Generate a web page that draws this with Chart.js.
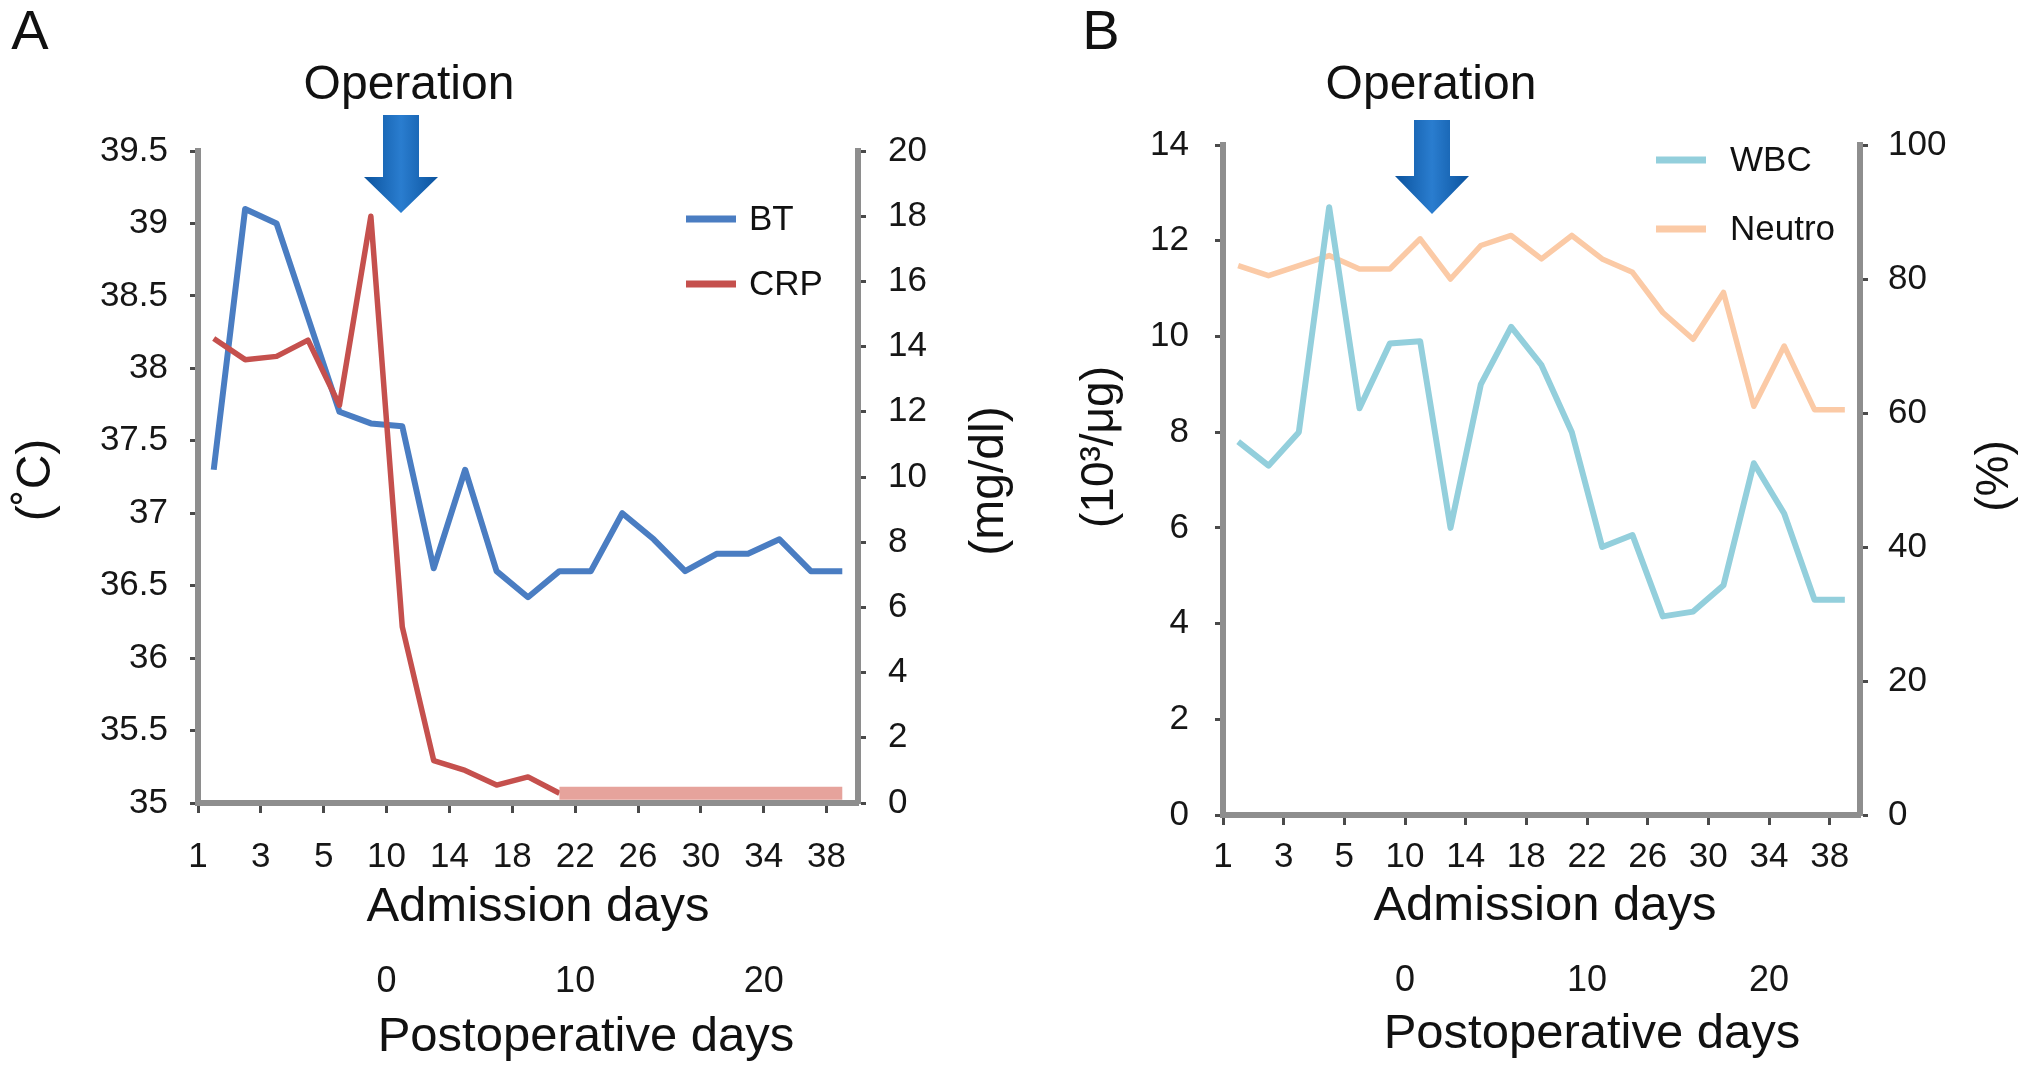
<!DOCTYPE html>
<html>
<head>
<meta charset="utf-8">
<title>BT, CRP, WBC and Neutro by admission day</title>
<script src="https://cdn.jsdelivr.net/npm/chart.js@4.4.1/dist/chart.umd.min.js"></script>
<style>
  body { margin: 0; background: #fff; }
  #wrap { position: relative; width: 2031px; height: 1074px; }
  canvas { position: absolute; top: 0; }
  #chartA { left: 0; }
  #chartB { left: 1015px; }
</style>
</head>
<body>
<div id="wrap">
  <canvas id="chartA" width="1015" height="1074"></canvas>
  <canvas id="chartB" width="1016" height="1074"></canvas>
</div>
<script>
// admission-day tick labels (one label every two measurements)
const dayLabels = ['1', '3', '5', '10', '14', '18', '22', '26', '30', '34', '38'];
// postoperative-day labels and where they sit on the measurement axis
const postopLabels = ['0', '10', '20'];
const postopAt = [5.5, 11.5, 17.5];

// panel A: body temperature (C) and CRP (mg/dl)
const btValues = [37.3, 39.1, 39.0, 38.35, 37.7, 37.62, 37.6, 36.62, 37.3, 36.6, 36.42,
                  36.6, 36.6, 37.0, 36.82, 36.6, 36.72, 36.72, 36.82, 36.6, 36.6];
const crpValues = [14.25, 13.6, 13.7, 14.2, 12.2, 18.0, 5.4, 1.3, 1.0, 0.55, 0.8,
                   0.3, 0.3, 0.3, 0.3, 0.3, 0.3, 0.3, 0.3, 0.3, 0.3];

// panel B: WBC (10^3/ug) and neutrophils (%)
const wbcValues = [7.8, 7.3, 8.0, 12.7, 8.5, 9.85, 9.9, 6.0, 9.0, 10.2, 9.4,
                   8.0, 5.6, 5.85, 4.15, 4.25, 4.8, 7.35, 6.3, 4.5, 4.5];
const neutroValues = [82, 80.5, 82, 83.5, 81.5, 81.5, 86, 80, 85, 86.5, 83,
                      86.5, 83, 81, 75, 71, 78, 61, 70, 60.5, 60.5];

const FONT = '"Liberation Sans", Arial, Helvetica, sans-serif';
Chart.defaults.font.family = FONT;
Chart.defaults.color = '#161616';

const axisGray = '#8e8e8e';
const tickDark = '#4a4a4a';
const xMin = -0.5;
const xMax = btValues.length - 0.5;

function toPoints(values) {
    return values.map((v, i) => ({ x: i, y: v }));
}

function yScale(pos, min, max, step, width, pad) {
    return {
        type: 'linear', position: pos, min: min, max: max,
        ticks: { stepSize: step, padding: pad, font: { size: 35 }, callback: v => String(v) },
        grid: { drawOnChartArea: false, tickLength: 8, tickWidth: 3, tickColor: tickDark },
        border: { color: axisGray, width: 6 },
        afterFit: s => { s.width = width; }
    };
}

function dayScale(height, pad) {
    return {
        type: 'linear', position: 'bottom', weight: 1, min: xMin, max: xMax,
        afterBuildTicks: s => { s.ticks = dayLabels.map((_, i) => ({ value: i * 2 - 0.5 })); },
        ticks: { autoSkip: false, maxRotation: 0, padding: pad, font: { size: 35 },
                 callback: (v, i) => dayLabels[i] },
        grid: { drawOnChartArea: false, tickLength: 10, tickWidth: 3, tickColor: tickDark },
        border: { color: axisGray, width: 6 },
        afterFit: s => { s.height = height; }
    };
}

function postopScale(height, pad) {
    return {
        type: 'linear', position: 'bottom', weight: 2, min: xMin, max: xMax,
        afterBuildTicks: s => { s.ticks = postopAt.map(v => ({ value: v })); },
        ticks: { autoSkip: false, maxRotation: 0, padding: pad, font: { size: 36 },
                 callback: (v, i) => postopLabels[i] },
        grid: { display: false, drawTicks: false },
        border: { display: false },
        afterFit: s => { s.height = height; }
    };
}

function vText(ctx, text, x, y) {
    ctx.save();
    ctx.translate(x, y);
    ctx.rotate(-Math.PI / 2);
    ctx.fillText(text, 0, 0);
    ctx.restore();
}

function drawArrow(ctx, cx, top, headTop, tip) {
    const shaft = 18, head = 37;
    const g = ctx.createLinearGradient(cx - head, 0, cx + head, 0);
    g.addColorStop(0, '#0b539e');
    g.addColorStop(0.5, '#2a7dcf');
    g.addColorStop(1, '#0b539e');
    ctx.beginPath();
    ctx.moveTo(cx - shaft, top);
    ctx.lineTo(cx + shaft, top);
    ctx.lineTo(cx + shaft, headTop);
    ctx.lineTo(cx + head, headTop);
    ctx.lineTo(cx, tip);
    ctx.lineTo(cx - head, headTop);
    ctx.lineTo(cx - shaft, headTop);
    ctx.closePath();
    ctx.fillStyle = g;
    ctx.fill();
}

// panel letter, operation arrow, axis titles and in-plot legend
const decor = {
    id: 'decor',
    afterDraw(chart, args, o) {
        const ctx = chart.ctx;
        ctx.save();
        ctx.fillStyle = '#111';
        ctx.textAlign = 'center';
        ctx.textBaseline = 'middle';

        ctx.font = '56px ' + FONT;
        ctx.fillText(o.letter, o.letterX, o.letterY);

        ctx.font = '48px ' + FONT;
        ctx.fillText('Operation', o.opX, o.opY);
        drawArrow(ctx, o.arrowX, o.arrowTop, o.arrowHead, o.arrowTip);

        ctx.fillStyle = '#111';
        ctx.font = '49px ' + FONT;
        ctx.fillText('Admission days', o.xTitleX, o.xTitleY);
        ctx.fillText('Postoperative days', o.postTitleX, o.postTitleY);
        ctx.font = o.yTitleSize + 'px ' + FONT;
        vText(ctx, o.yTitle, o.yTitleX, o.yTitleY);
        vText(ctx, o.y1Title, o.y1TitleX, o.y1TitleY);

        ctx.font = '35px ' + FONT;
        ctx.textAlign = 'left';
        chart.data.datasets.forEach((ds, i) => {
            const y = o.legendY + i * o.legendStep;
            ctx.strokeStyle = ds.borderColor;
            ctx.lineWidth = 7;
            ctx.beginPath();
            ctx.moveTo(o.legendX, y);
            ctx.lineTo(o.legendX + 50, y);
            ctx.stroke();
            ctx.fillStyle = '#111';
            ctx.fillText(ds.label, o.legendTextX, y + 1);
        });
        ctx.restore();
    }
};

const lineStyle = { pointRadius: 0, tension: 0, borderJoinStyle: 'round', borderCapStyle: 'butt' };
const isLowCrp = c => c.p0.parsed.y < 0.5 && c.p1.parsed.y < 0.5;

new Chart(document.getElementById('chartA'), {
    type: 'line',
    data: {
        datasets: [
            Object.assign({ label: 'BT', data: toPoints(btValues), yAxisID: 'y', order: 2,
                            borderColor: '#4a7dc2', borderWidth: 6 }, lineStyle),
            Object.assign({ label: 'CRP', data: toPoints(crpValues), yAxisID: 'y1', order: 1,
                            borderColor: '#c5504d', borderWidth: 5.5,
                            segment: {
                                borderWidth: c => isLowCrp(c) ? 13 : undefined,
                                borderColor: c => isLowCrp(c) ? '#e6a39c' : undefined
                            } }, lineStyle)
        ]
    },
    options: {
        responsive: false,
        animation: false,
        layout: { padding: { top: 151, left: 0, right: 0, bottom: 0 } },
        scales: {
            x: dayScale(120, 23),
            x2: postopScale(151, 37),
            y: yScale('left', 35, 39.5, 0.5, 198, 22),
            y1: yScale('right', 0, 20, 2, 157, 22)
        },
        plugins: {
            legend: { display: false },
            tooltip: { enabled: false },
            decor: {
                letter: 'A', letterX: 30, letterY: 34,
                opX: 409, opY: 86, arrowX: 401, arrowTop: 115, arrowHead: 177, arrowTip: 213,
                xTitleX: 538, xTitleY: 907, postTitleX: 586, postTitleY: 1037,
                yTitle: '(˚C)', yTitleX: 37, yTitleY: 480, yTitleSize: 48,
                y1Title: '(mg/dl)', y1TitleX: 990, y1TitleY: 481,
                legendX: 686, legendTextX: 749, legendY: 219, legendStep: 65
            }
        }
    },
    plugins: [decor]
});

new Chart(document.getElementById('chartB'), {
    type: 'line',
    data: {
        datasets: [
            Object.assign({ label: 'WBC', data: toPoints(wbcValues), yAxisID: 'y', order: 1,
                            borderColor: '#93cfdc', borderWidth: 6 }, lineStyle),
            Object.assign({ label: 'Neutro', data: toPoints(neutroValues), yAxisID: 'y1', order: 2,
                            borderColor: '#fbcaa6', borderWidth: 5.5 }, lineStyle)
        ]
    },
    options: {
        responsive: false,
        animation: false,
        layout: { padding: { top: 145, left: 0, right: 0, bottom: 0 } },
        scales: {
            x: dayScale(120, 11),
            x2: postopScale(139, 24),
            y: yScale('left', 0, 14, 2, 208, 26),
            y1: yScale('right', 0, 100, 20, 171, 20)
        },
        plugins: {
            legend: { display: false },
            tooltip: { enabled: false },
            decor: {
                letter: 'B', letterX: 86, letterY: 34,
                opX: 416, opY: 86, arrowX: 417, arrowTop: 120, arrowHead: 176, arrowTip: 214,
                xTitleX: 530, xTitleY: 906, postTitleX: 577, postTitleY: 1034,
                yTitle: '(10³/μg)', yTitleX: 85, yTitleY: 447, yTitleSize: 46,
                y1Title: '(%)', y1TitleX: 980, y1TitleY: 476,
                legendX: 641, legendTextX: 715, legendY: 160, legendStep: 69
            }
        }
    },
    plugins: [decor]
});
</script>
</body>
</html>
